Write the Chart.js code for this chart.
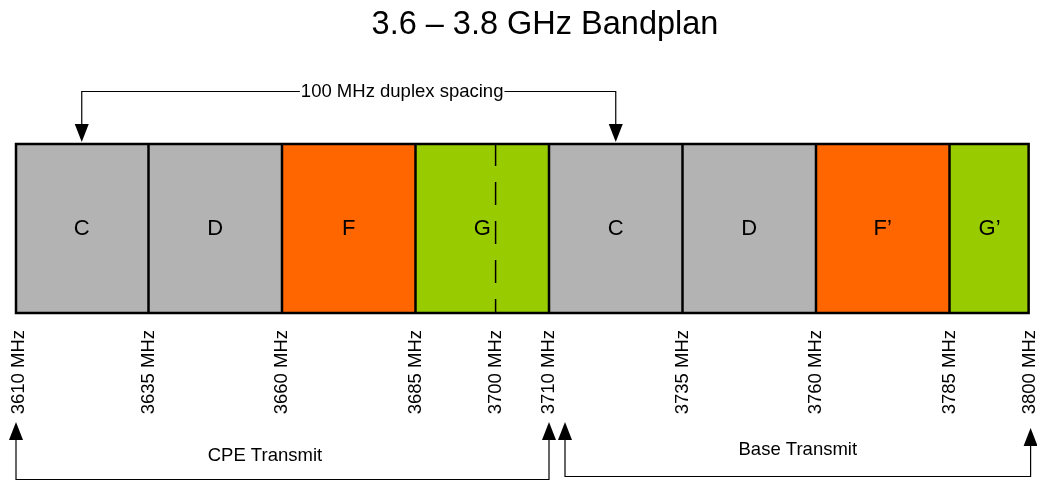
<!DOCTYPE html>
<html>
<head>
<meta charset="utf-8">
<title>3.6 – 3.8 GHz Bandplan</title>
<script src="https://cdn.jsdelivr.net/npm/chart.js@4"></script>
<style>
  body { margin: 0; background: #fff; }
</style>
</head>
<body>
<canvas id="bandChart" width="1037" height="481"></canvas>
<script>
const blockNames = ["C", "D", "F", "G", "C", "D", "F’", "G’"];
const blockType = ["C", "D", "F", "G", "C", "D", "F", "G"];
const blockStart = [3610, 3635, 3660, 3685, 3710, 3735, 3760, 3785];
const blockEnd = [3635, 3660, 3685, 3710, 3735, 3760, 3785, 3800];
const tickValues = [3610, 3635, 3660, 3685, 3700, 3710, 3735, 3760, 3785, 3800];
const splitAt = 3700;
const duplexRange = [3622.5, 3722.5]; // centre of each C block
const cpeRange = [3610, 3710];
const baseRange = [3710, 3800];

const typeColors = { C: "#b3b3b3", D: "#b3b3b3", F: "#ff6600", G: "#99cc00" };
const FONT = '"Liberation Sans", Arial, sans-serif';

// dir 1 = pointing down, -1 = pointing up
function arrowHead(ctx, x, tipY, dir) {
  ctx.beginPath();
  ctx.moveTo(x, tipY);
  ctx.lineTo(x - 7, tipY - dir * 18);
  ctx.lineTo(x + 7, tipY - dir * 18);
  ctx.closePath();
  ctx.fill();
}

function gapLabel(ctx, text, x, y) {
  const w = ctx.measureText(text).width;
  ctx.fillStyle = "#fff";
  ctx.fillRect(x - w / 2 - 1, y - 10, w + 2, 20);
  ctx.fillStyle = "#000";
  ctx.fillText(text, x, y);
}

const bandplanPlugin = {
  id: "bandplan",
  afterDatasetsDraw(chart) {
    const ctx = chart.ctx;
    const sx = chart.scales.x;
    const area = chart.chartArea;
    const midY = (area.top + area.bottom) / 2;

    ctx.save();
    ctx.fillStyle = "#000";
    ctx.strokeStyle = "#000";

    // dashed split inside G
    const xs = sx.getPixelForValue(splitAt);
    ctx.lineWidth = 1.5;
    ctx.setLineDash([23, 16]);
    ctx.beginPath();
    ctx.moveTo(xs, area.top);
    ctx.lineTo(xs, area.bottom);
    ctx.stroke();
    ctx.setLineDash([]);

    // block outlines
    ctx.lineWidth = 2.5;
    ctx.strokeRect(area.left + 1, area.top + 1, area.right - area.left - 2, area.bottom - area.top - 2);
    blockStart.slice(1).forEach(v => {
      const px = sx.getPixelForValue(v);
      ctx.beginPath();
      ctx.moveTo(px, area.top);
      ctx.lineTo(px, area.bottom);
      ctx.stroke();
    });

    // block names
    ctx.font = "22px " + FONT;
    ctx.textAlign = "center";
    ctx.textBaseline = "middle";
    blockNames.forEach((name, i) => {
      const cx = (sx.getPixelForValue(blockStart[i]) + sx.getPixelForValue(blockEnd[i])) / 2;
      ctx.fillText(name, cx, midY);
    });

    // frequency labels, rotated
    ctx.font = "18.5px " + FONT;
    ctx.textAlign = "right";
    tickValues.forEach((v, i) => {
      let px = sx.getPixelForValue(v);
      if (i === 0) px += 4;
      ctx.save();
      ctx.translate(px, 330);
      ctx.rotate(-Math.PI / 2);
      ctx.fillText(v + " MHz", 0, 0);
      ctx.restore();
    });
    ctx.textAlign = "center";

    ctx.lineWidth = 1.2;

    // duplex spacing bracket
    let x1 = sx.getPixelForValue(duplexRange[0]);
    let x2 = sx.getPixelForValue(duplexRange[1]);
    let tip = area.top - 1;
    ctx.beginPath();
    ctx.moveTo(x1, tip - 17);
    ctx.lineTo(x1, 91.5);
    ctx.lineTo(x2, 91.5);
    ctx.lineTo(x2, tip - 17);
    ctx.stroke();
    arrowHead(ctx, x1, tip, 1);
    arrowHead(ctx, x2, tip, 1);
    gapLabel(ctx, "100 MHz duplex spacing", x1 + 0.6 * (x2 - x1), 91.5);

    // CPE transmit
    x1 = sx.getPixelForValue(cpeRange[0]) + 1;
    x2 = sx.getPixelForValue(cpeRange[1]);
    tip = 422;
    ctx.beginPath();
    ctx.moveTo(x1, tip + 17);
    ctx.lineTo(x1, 479.5);
    ctx.lineTo(x2, 479.5);
    ctx.lineTo(x2, tip + 17);
    ctx.stroke();
    arrowHead(ctx, x1, tip, -1);
    arrowHead(ctx, x2, tip, -1);
    ctx.fillText("CPE Transmit", x1 + 0.467 * (x2 - x1), 456);

    // Base transmit
    x1 = sx.getPixelForValue(baseRange[0]) + 16;
    x2 = sx.getPixelForValue(baseRange[1]) + 1;
    ctx.beginPath();
    ctx.moveTo(x1, 422 + 17);
    ctx.lineTo(x1, 476.5);
    ctx.lineTo(x2, 476.5);
    ctx.lineTo(x2, 428 + 17);
    ctx.stroke();
    arrowHead(ctx, x1, 422, -1);
    arrowHead(ctx, x2, 428, -1);
    ctx.fillText("Base Transmit", (x1 + x2) / 2, 450);

    // title
    ctx.font = "32.5px " + FONT;
    ctx.fillText("3.6 – 3.8 GHz Bandplan", 545, 25);

    ctx.restore();
  }
};

new Chart(document.getElementById("bandChart"), {
  type: "bar",
  data: {
    labels: ["band"],
    datasets: blockNames.map((name, i) => ({
      label: name,
      data: [[blockStart[i], blockEnd[i]]],
      backgroundColor: typeColors[blockType[i]],
      borderWidth: 0,
      grouped: false,
      barPercentage: 1,
      categoryPercentage: 1
    }))
  },
  options: {
    indexAxis: "y",
    responsive: false,
    animation: false,
    layout: { padding: { left: 15, right: 7.4, top: 143, bottom: 167 } },
    scales: {
      x: { type: "linear", min: 3610, max: 3800, display: false },
      y: { display: false }
    },
    plugins: {
      legend: { display: false },
      tooltip: { enabled: false }
    }
  },
  plugins: [bandplanPlugin]
});
</script>
</body>
</html>
